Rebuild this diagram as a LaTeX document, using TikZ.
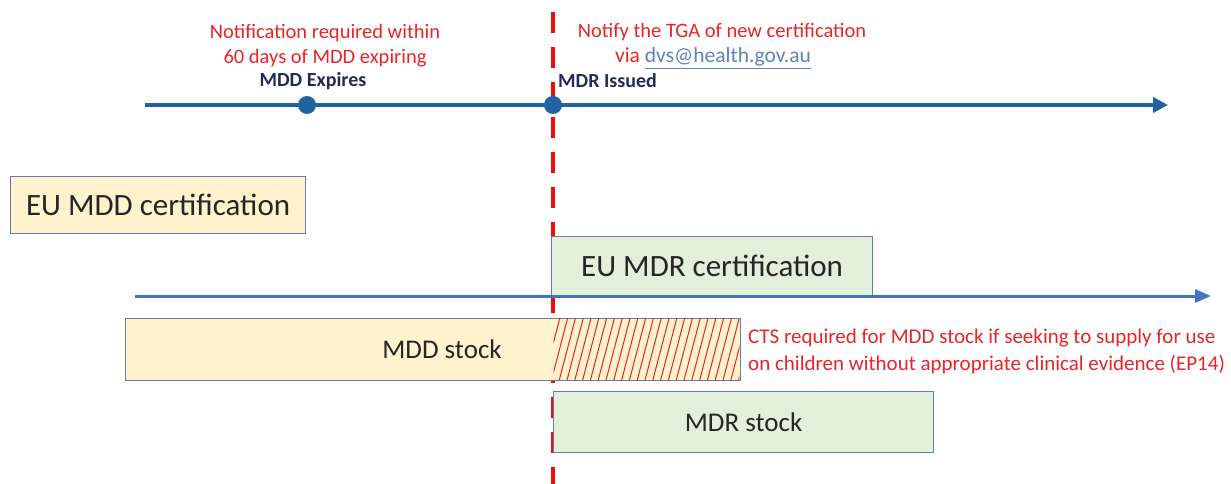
\documentclass[tikz,border=0pt]{standalone}
\usepackage{fontspec}
\setmainfont{Carlito}
\usetikzlibrary{arrows.meta}

\definecolor{lineblue}{RGB}{31,100,160}
\definecolor{axisblue}{RGB}{68,114,196}
\definecolor{navy}{RGB}{31,45,90}
\definecolor{alertred}{RGB}{235,35,40}
\definecolor{dashred}{RGB}{240,10,10}
\definecolor{linkblue}{RGB}{95,130,185}
\definecolor{boxedge}{RGB}{100,125,170}
\definecolor{mddfill}{RGB}{255,242,204}
\definecolor{mdrfill}{RGB}{226,239,218}

\tikzset{
  period/.style={draw=boxedge, line width=1.2pt, inner sep=0pt, anchor=north west},
  boxtext/.style={text=black!85, inner sep=0pt},
  milestone/.style={circle, fill=lineblue, minimum size=18pt, inner sep=0pt},
  eventlabel/.style={text=navy, font=\bfseries\fontsize{20}{24}\selectfont, inner sep=0pt},
  note/.style={text=alertred, font=\fontsize{20.5}{26}\selectfont, inner sep=0pt},
  hatchline/.style={draw=alertred, line width=1pt}
}

\begin{document}
\begin{tikzpicture}[x=1pt, y=-1pt]
\useasboundingbox (0,0) rectangle (1231,484);

% transition date marker
\coordinate (cutTop) at (553,12);
\coordinate (cutBot) at (553,484);
\draw[dashred, line width=4pt, dash pattern=on 21pt off 14pt] (cutTop) -- (cutBot);

% upper timeline with milestones
\coordinate (tlStart) at (145,105);
\coordinate (tlEnd) at (1168,105);
\draw[lineblue, line width=4pt, -{Triangle[length=15pt, width=15pt]}] (tlStart) -- (tlEnd);
\node[milestone] (expire) at (307,105) {};
\node[milestone] (issue) at (553,105) {};
\node[eventlabel] (expireLbl) at (313,81) {MDD Expires};
\node[eventlabel, anchor=west] (issueLbl) at (558,81) {MDR Issued};

\node[note] (notifA1) at (325,33) {Notification required within};
\node[note] (notifA2) at (325,58) {60 days of MDD expiring};
\node[note] (notifB1) at (722,32) {Notify the TGA of new certification};
\node[note, font=\fontsize{21.5}{26}\selectfont] (notifB2) at (713,58)
  {via \textcolor{linkblue}{\underline{dvs@health.gov.au}}};

% certificates
\node[period, fill=mddfill, minimum width=295pt, minimum height=57pt] (mddCert) at (10,176) {};
\node[boxtext] (mddCertLbl) at (mddCert.center) {\fontsize{31}{36}\selectfont EU MDD certification};
\node[period, fill=mdrfill, minimum width=321pt, minimum height=59pt] (mdrCert) at (551,236) {};
\node[boxtext] (mdrCertLbl) at (mdrCert.center) {\fontsize{31}{36}\selectfont EU MDR certification};

% lower timeline
\coordinate (axStart) at (135,296);
\coordinate (axEnd) at (1211,296);
\draw[axisblue, line width=3pt, -{Triangle[length=16pt, width=13pt]}] (axStart) -- (axEnd);

% stock periods
\node[period, fill=mddfill, minimum width=615pt, minimum height=62pt] (mddStock) at (125,318) {};
\node[boxtext] (mddStockLbl) at (442,349) {\fontsize{27}{32}\selectfont MDD stock};
\begin{scope}
  \clip (553.5,318.8) rectangle (739.3,379.2);
  \foreach \x in {520,527.8,...,760} {
    \draw[hatchline] (\x,381) -- (\x+17,316);
  }
\end{scope}
\node[period, fill=mdrfill, minimum width=380pt, minimum height=61pt] (mdrStock) at (553,391) {};
\node[boxtext] (mdrStockLbl) at (mdrStock.center) {\fontsize{27}{32}\selectfont MDR stock};

\node[note, font=\fontsize{21}{27}\selectfont, anchor=west, align=left] (ctsNote) at (748,351)
  {CTS required for MDD stock if seeking to supply for use\\on children without appropriate clinical evidence (EP14)};
\end{tikzpicture}
\end{document}
